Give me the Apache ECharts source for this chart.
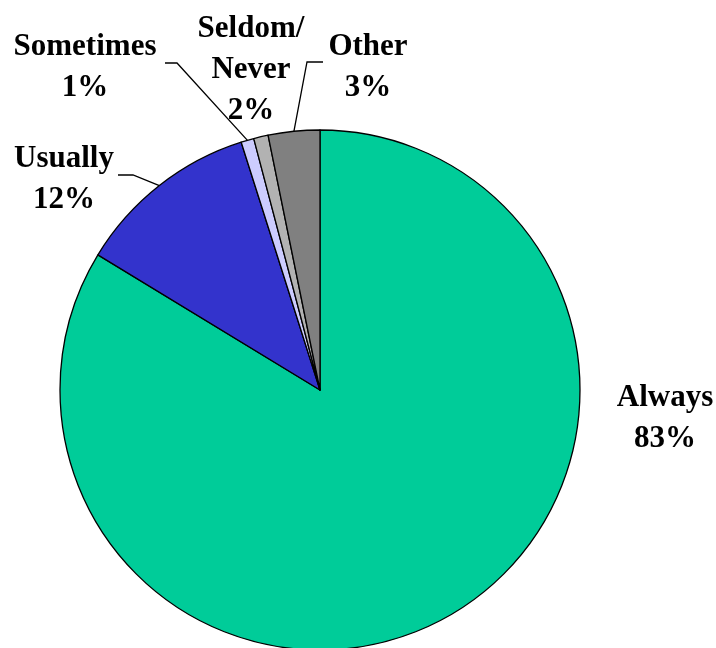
<!DOCTYPE html>
<html>
<head>
<meta charset="utf-8">
<script src="https://cdn.jsdelivr.net/npm/echarts@6/dist/echarts.min.js"></script>
<style>html,body{margin:0;padding:0;background:#fff}#c{width:716px;height:648px}</style>
</head>
<body>
<div id="c"></div>
<script>
const categories = ['Always', 'Usually', 'Sometimes', 'Seldom/\nNever', 'Other'];
const values = [83.7, 11.4, 0.8, 0.9, 3.2];
const percentLabels = ['83%', '12%', '1%', '2%', '3%'];
const colors = ['#00CC99', '#3333CC', '#CCCCFF', '#B2B2B2', '#808080'];
const showLeader = [false, true, true, false, true];

// label layout (centre of text block, leader bend and end)
const labelPos = [
  {x: 665, y: 418},
  {x: 64, y: 179, bend: [133, 175], end: [118, 175]},
  {x: 85, y: 67, bend: [177, 63], end: [165, 63]},
  {x: 251, y: 70},
  {x: 368, y: 67, bend: [307, 62], end: [323, 62]}
];

const chart = echarts.init(document.getElementById('c'), null, {renderer: 'canvas'});
chart.setOption({
  animation: false,
  backgroundColor: '#fff',
  series: [{
    type: 'pie',
    center: [320, 390],
    radius: 260,
    startAngle: 90,
    clockwise: true,
    avoidLabelOverlap: false,
    itemStyle: {borderColor: '#000', borderWidth: 1.3},
    emphasis: {disabled: true},
    label: {
      show: true,
      position: 'outside',
      fontFamily: 'Liberation Serif',
      fontWeight: 'bold',
      fontSize: 31,
      lineHeight: 41,
      color: '#000',
      align: 'center',
      formatter: p => p.name + '\n' + percentLabels[p.dataIndex]
    },
    labelLine: {show: true, lineStyle: {color: '#000', width: 1.3}, length: 10, length2: 10},
    labelLayout: function (params) {
      const i = params.dataIndex;
      const lp = labelPos[i];
      const out = {x: lp.x, y: lp.y, align: 'center', verticalAlign: 'middle'};
      if (lp.bend && params.labelLinePoints) {
        out.labelLinePoints = [params.labelLinePoints[0], lp.bend, lp.end];
      }
      return out;
    },
    data: categories.map((c, i) => ({
      name: c,
      value: values[i],
      itemStyle: {color: colors[i]},
      labelLine: {show: showLeader[i]}
    }))
  }]
});
</script>
</body>
</html>
